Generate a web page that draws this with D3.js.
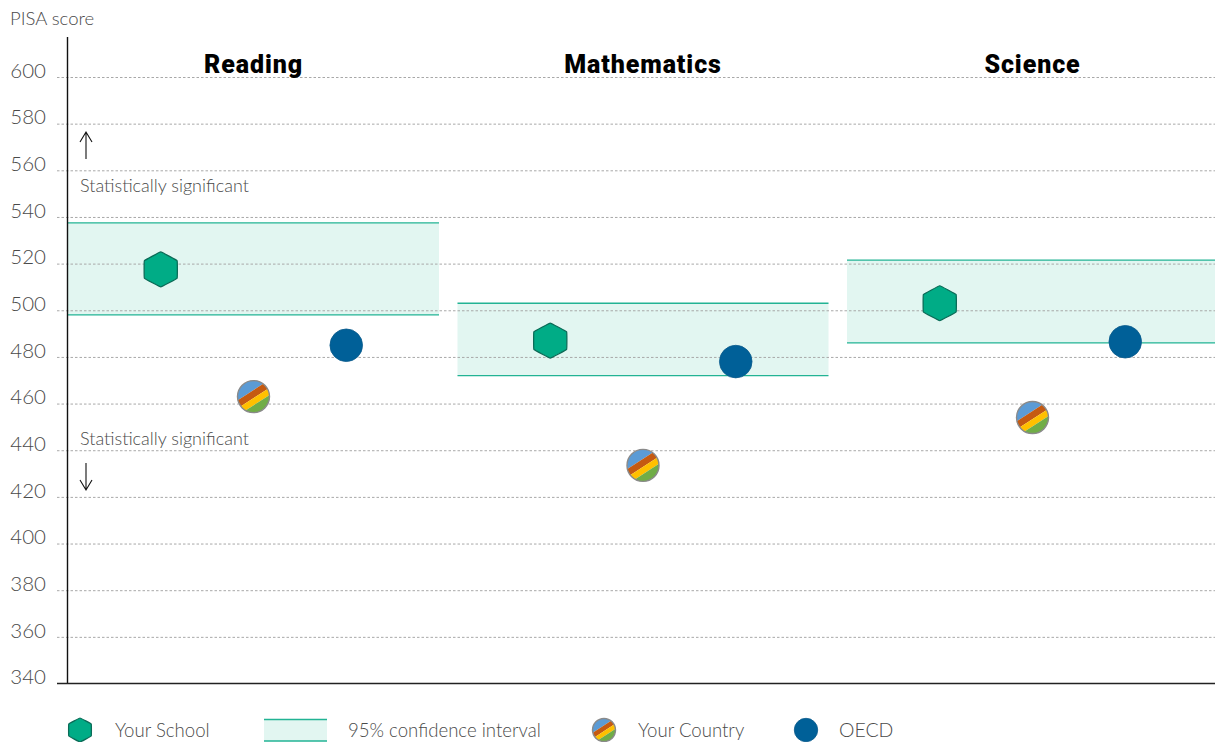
<!DOCTYPE html>
<html><head><meta charset="utf-8">
<script src="https://cdn.jsdelivr.net/npm/d3@7"></script>
<style>
html,body{margin:0;padding:0;background:#fff}
svg{display:block}
text{font-family:Lato,"Open Sans",sans-serif;font-weight:300;fill:#4a4a4a}
</style></head><body><div id="chart"></div>
<script>
const subjects = ["Reading","Mathematics","Science"];
const groups = ["Your School","Your Country","OECD"];
const yourSchool = [517.5,487,503];
const yourCountry = [463,433.5,454];
const oecd = [485,478,486.5];
const ciLow = [498,472,486];
const ciHigh = [537.5,503,521.5];
const yTicks = d3.range(340,601,20);
const legendLabels = ["Your School","95% confidence interval","Your Country","OECD"];
const stripeColors = ["#5b9bd5","#c55a11","#ffc000","#70ad47"];
const stripeWeights = [0.33,0.21,0.19,0.27];

const W=1215,H=742;
const svg=d3.select("#chart").append("svg").attr("width",W).attr("height",H);
const y=d3.scaleLinear().domain([340,600]).range([683.5,77]);
const xBand=d3.scaleBand().domain(subjects).range([68,1218]).paddingInner(0.0475).paddingOuter(0);
const xIn=d3.scalePoint().domain(groups).range([0,xBand.bandwidth()]).padding(1);

const defs=svg.append("defs");
const hexPath=r=>d3.lineRadial().curve(d3.curveCardinalClosed.tension(0.88))(d3.range(6).map(i=>[i*Math.PI/3,r]));
let clipId=0;
function countryMarker(g,cx,cy,r){
  const id="c"+(clipId++);
  defs.append("clipPath").attr("id",id).append("circle").attr("r",r);
  const m=g.append("g").attr("transform",`translate(${cx},${cy})`);
  const s=m.append("g").attr("clip-path",`url(#${id})`).append("g").attr("transform","rotate(-33)");
  let t=-r;
  stripeColors.forEach((c,i)=>{const h=2*r*stripeWeights[i];
    s.append("rect").attr("x",-r*1.5).attr("width",r*3).attr("y",t).attr("height",h).attr("fill",c);t+=h;});
  m.append("circle").attr("r",r).attr("fill","none").attr("stroke","#8a8a8a").attr("stroke-width",1.4);
}
function schoolMarker(g,cx,cy,r){
  g.append("path").attr("d",hexPath(r)).attr("transform",`translate(${cx},${cy}) scale(1.08,1)`)
   .attr("fill","#00ac86").attr("stroke","#0b6b57").attr("stroke-width",1.2).attr("stroke-linejoin","round");
}
function oecdMarker(g,cx,cy,r){
  g.append("circle").attr("cx",cx).attr("cy",cy).attr("r",r).attr("fill","#006098").attr("stroke","#0a5a8c").attr("stroke-width",.8);
}

// CI bands
const bands=svg.append("g");
subjects.forEach((s,i)=>{
  bands.append("rect").attr("x",xBand(s)).attr("width",xBand.bandwidth())
    .attr("y",y(ciHigh[i])).attr("height",y(ciLow[i])-y(ciHigh[i])).attr("fill","#e2f6f1");
  [ciHigh[i],ciLow[i]].forEach(v=>bands.append("line").attr("x1",xBand(s)).attr("x2",xBand(s)+xBand.bandwidth())
    .attr("y1",y(v)).attr("y2",y(v)).attr("stroke","#22b394").attr("stroke-width",1.3));
});

// grid + axis labels
const axis=svg.append("g").attr("transform","translate(57,0)")
  .call(d3.axisLeft(y).tickValues(yTicks.slice(1)).tickSize(-(W-57)).tickPadding(10));
axis.select(".domain").remove();
axis.selectAll(".tick line").attr("stroke","#a8a8a8").attr("stroke-dasharray","2.5,2").attr("stroke-width",1);
const labelAxis=svg.append("g");
yTicks.forEach(v=>labelAxis.append("text").attr("x",46).attr("y",y(v)-6.5).attr("dy","0.35em")
  .attr("text-anchor","end").attr("font-size",20.5).text(v));
axis.selectAll(".tick text").remove();

// axis lines
svg.append("line").attr("x1",67.5).attr("x2",67.5).attr("y1",37).attr("y2",684).attr("stroke","#111").attr("stroke-width",1.4);
svg.append("line").attr("x1",57).attr("x2",W).attr("y1",y(340)).attr("y2",y(340)).attr("stroke","#222").attr("stroke-width",1.4);

svg.append("text").attr("x",10).attr("y",25).attr("font-size",18.5).text("PISA score");

// titles
subjects.forEach(s=>svg.append("text").attr("x",xBand(s)+xBand.bandwidth()/2).attr("y",73)
  .attr("text-anchor","middle").attr("font-size",25).attr("letter-spacing",0.9)
  .style("font-family","Roboto").style("font-weight",900).style("fill","#000").text(s));

// annotations
function arrow(x,y0,y1){
  const d=y1<y0?1:-1;
  svg.append("path").attr("d",`M${x},${y0}L${x},${y1}M${x-6},${y1+d*10}L${x},${y1}L${x+6},${y1+d*10}`)
    .attr("fill","none").attr("stroke","#111").attr("stroke-width",1.1);
}
arrow(86,159,132); arrow(86,463,490);
[192,445].forEach(b=>svg.append("text").attr("x",80).attr("y",b).attr("font-size",18).text("Statistically significant"));

// markers
const marks=svg.append("g");
subjects.forEach((s,i)=>{
  const x0=xBand(s);
  schoolMarker(marks,x0+xIn(groups[0]),y(yourSchool[i]),17.5);
  countryMarker(marks,x0+xIn(groups[1]),y(yourCountry[i]),16);
  oecdMarker(marks,x0+xIn(groups[2]),y(oecd[i]),16.3);
});

// legend
const leg=svg.append("g"), ly=730;
schoolMarker(leg,80,ly,12);
leg.append("rect").attr("x",264).attr("width",63).attr("y",719).attr("height",22).attr("fill","#e2f6f1");
[719.5,741].forEach(v=>leg.append("line").attr("x1",264).attr("x2",327).attr("y1",v).attr("y2",v).attr("stroke","#22b394").attr("stroke-width",1.3));
countryMarker(leg,604,ly,11.5);
oecdMarker(leg,806,ly,11.7);
[115,348,638,839].forEach((x,i)=>leg.append("text").attr("x",x).attr("y",737)
  .attr("font-size",i==3?19.5:18.6).text(legendLabels[i]));
</script></body></html>
